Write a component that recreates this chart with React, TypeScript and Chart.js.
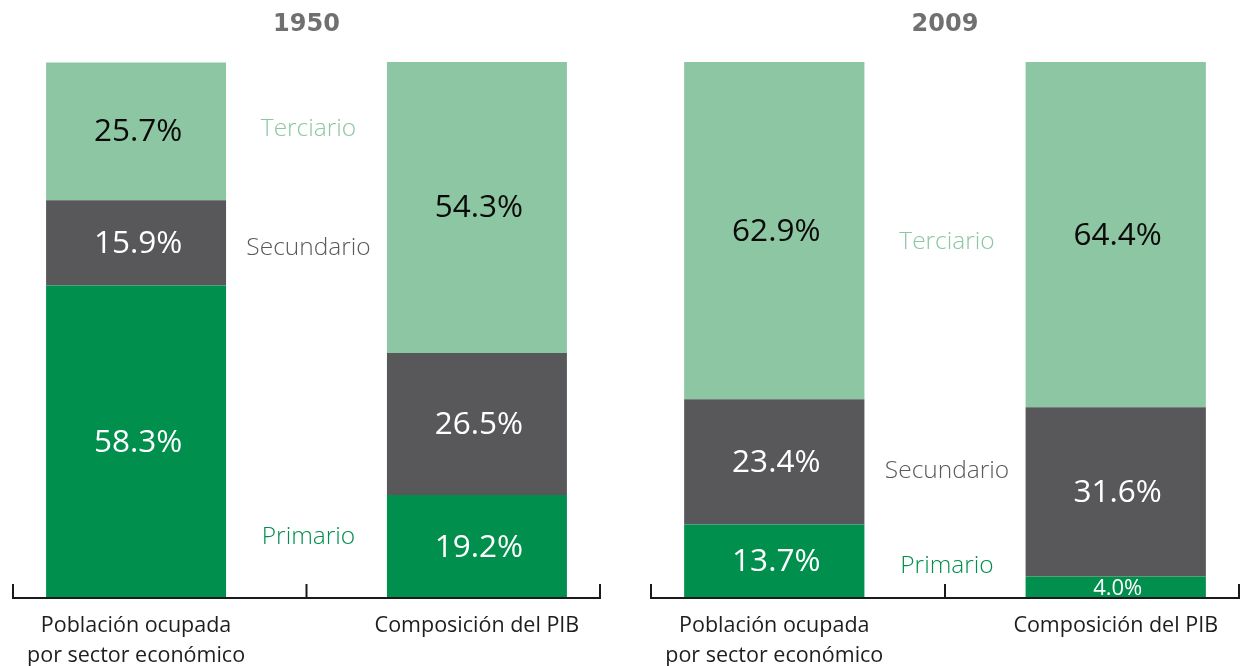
import React, { useEffect, useRef } from 'react';
import { Chart, registerables } from 'chart.js';

Chart.register(...registerables);

// ---------- data ----------
const years = ['1950', '2009'];
const categoryLines = [['Población ocupada', 'por sector económico'], ['Composición del PIB']];
const sectorNames = ['Primario', 'Secundario', 'Terciario'];

const primario1950 = [58.3, 19.2];
const secundario1950 = [15.9, 26.5];
const terciario1950 = [25.7, 54.3];

const primario2009 = [13.7, 4.0];
const secundario2009 = [23.4, 31.6];
const terciario2009 = [62.9, 64.4];

// ---------- layout / style ----------
// level (in % units of the value axis) where each side label sits: Primario, Secundario, Terciario
const sideLevels1950 = [11.4, 65.3, 87.5];
const sideLevels2009 = [6.0, 23.7, 66.4];

const BAR_COLORS = ['#008f4c', '#58585a', '#8dc6a3'];
const VALUE_COLORS = ['#ffffff', '#ffffff', '#0a0a0a'];
const SIDE_COLORS = ['#008f4c', '#5a5a5a', '#8dc6a3'];
const FONT = '"Open Sans", "DejaVu Sans", sans-serif';

const overlayPlugin = {
  id: 'overlay',
  afterDatasetsDraw(chart: any, _args: any, opts: any) {
    const { ctx, chartArea } = chart;
    const xs = chart.scales.x;
    const ys = chart.scales.y;
    ctx.save();
    ctx.textAlign = 'center';
    ctx.textBaseline = 'middle';
    chart.data.datasets.forEach((ds: any, di: number) => {
      const meta = chart.getDatasetMeta(di);
      meta.data.forEach((el: any, i: number) => {
        const v = ds.data[i].y;
        const cy = (el.y + el.base) / 2;
        ctx.font = '400 ' + (v < 6 ? '22px ' : '31.5px ') + FONT;
        ctx.fillStyle = VALUE_COLORS[di];
        ctx.fillText(v.toFixed(1) + '%', el.x + 2, cy + 1);
      });
    });
    const mid = xs.getPixelForValue(0.5);
    ctx.font = '300 24.5px ' + FONT;
    (opts.levels || []).forEach((lv: number, s: number) => {
      ctx.fillStyle = SIDE_COLORS[s];
      ctx.fillText(sectorNames[s], mid + 2, ys.getPixelForValue(lv));
    });
    const by = chartArea.bottom;
    const th = 14;
    ctx.strokeStyle = '#1a1a1a';
    ctx.lineWidth = 2;
    ctx.beginPath();
    ctx.moveTo(chartArea.left + 1, by - th);
    ctx.lineTo(chartArea.left + 1, by);
    ctx.lineTo(chartArea.right - 1, by);
    ctx.lineTo(chartArea.right - 1, by - th);
    ctx.moveTo(mid, by - th);
    ctx.lineTo(mid, by);
    ctx.stroke();
    ctx.restore();
  },
};

type PanelProps = {
  year: string;
  primario: number[];
  secundario: number[];
  terciario: number[];
  levels: number[];
  left: number;
  padLeft: number;
  padRight: number;
};

function Panel({ year, primario, secundario, terciario, levels, left, padLeft, padRight }: PanelProps) {
  const ref = useRef<HTMLCanvasElement>(null);
  useEffect(() => {
    const series = [primario, secundario, terciario];
    const chart = new Chart(ref.current as HTMLCanvasElement, {
      type: 'bar',
      data: {
        datasets: series.map((vals, s) => ({
          label: sectorNames[s],
          data: vals.map((v, i) => ({ x: i, y: v })),
          backgroundColor: BAR_COLORS[s],
          borderWidth: 0,
          categoryPercentage: 0.528,
          barPercentage: 1,
        })),
      } as any,
      options: {
        animation: false,
        responsive: false,
        maintainAspectRatio: false,
        layout: { padding: { left: padLeft, right: padRight, top: 0, bottom: 0 } },
        plugins: {
          legend: { display: false },
          tooltip: { enabled: false },
          title: {
            display: true,
            text: year,
            color: '#707070',
            font: { family: '"DejaVu Sans", sans-serif', size: 24, weight: 'bold', lineHeight: 1.2 },
            padding: { top: 10.5, bottom: 22.7 },
          },
          overlay: { levels },
        } as any,
        scales: {
          x: {
            type: 'linear',
            offset: false,
            bounds: 'data',
            min: -0.364,
            max: 1.364,
            stacked: true,
            grid: { display: false, drawTicks: false, offset: false },
            border: { display: false },
            afterBuildTicks: (s: any) => {
              s.ticks = [{ value: 0 }, { value: 1 }];
            },
            afterFit: (s: any) => {
              s.height = 68;
            },
            ticks: {
              autoSkip: false,
              maxRotation: 0,
              padding: 13,
              color: '#1e1e1e',
              font: { family: FONT, size: 21.5, lineHeight: 1.4 },
              callback: (v: any) => categoryLines[v as number] ?? '',
            },
          },
          y: { display: false, stacked: true, min: 0, max: 100 },
        },
      } as any,
      plugins: [overlayPlugin],
    });
    return () => chart.destroy();
  }, []);
  return (
    <canvas
      ref={ref}
      width={621}
      height={666}
      style={{ position: 'absolute', left, top: 0, width: 621, height: 666 }}
    />
  );
}

export default function App() {
  return (
    <div style={{ position: 'fixed', left: 0, top: 0, width: 1242, height: 666, background: '#ffffff' }}>
      <Panel
        year={years[0]}
        primario={primario1950}
        secundario={secundario1950}
        terciario={terciario1950}
        levels={sideLevels1950}
        left={0}
        padLeft={12}
        padRight={20}
      />
      <Panel
        year={years[1]}
        primario={primario2009}
        secundario={secundario2009}
        terciario={terciario2009}
        levels={sideLevels2009}
        left={621}
        padLeft={29}
        padRight={2}
      />
    </div>
  );
}
